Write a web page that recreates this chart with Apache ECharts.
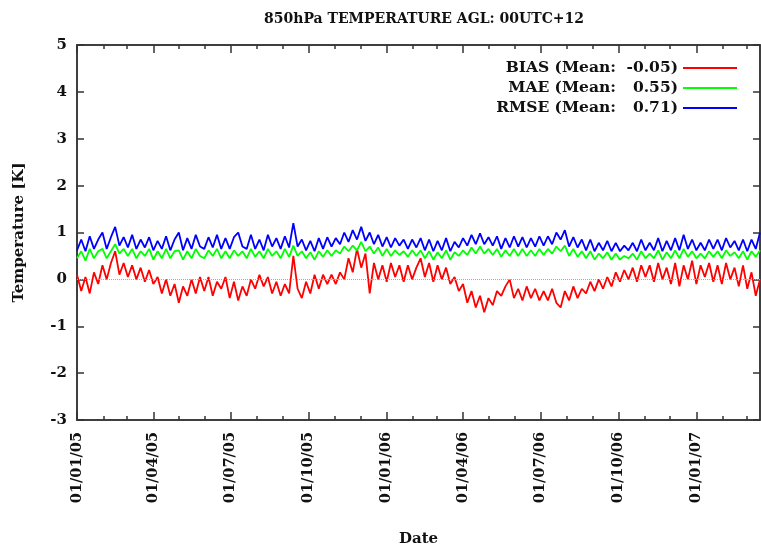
<!DOCTYPE html>
<html>
<head>
<meta charset="utf-8">
<script src="https://cdn.jsdelivr.net/npm/echarts@6/dist/echarts.min.js"></script>
<style>
html, body { margin: 0; padding: 0; background: #fff; }
#main { width: 761px; height: 549px; }
</style>
</head>
<body>
<div id="main"></div>
<script>
// values, one every 5 days starting 01/01/05
const stepDays = 5;
const lastDay = 805;
const biasValues = [
  0.1,-0.25,0.05,-0.3,0.15,-0.1,0.3,0.0,0.35,0.6,
  0.1,0.35,0.05,0.3,0.0,0.25,-0.05,0.2,-0.1,0.05,
  -0.3,0.0,-0.35,-0.1,-0.5,-0.15,-0.35,0.0,-0.3,0.05,
  -0.25,0.05,-0.35,-0.05,-0.2,0.05,-0.4,-0.05,-0.45,-0.15,
  -0.35,0.0,-0.2,0.1,-0.15,0.05,-0.3,-0.05,-0.35,-0.1,
  -0.3,0.5,-0.2,-0.4,-0.05,-0.3,0.1,-0.2,0.1,-0.1,
  0.1,-0.1,0.15,0.0,0.45,0.15,0.65,0.25,0.55,-0.3,
  0.35,0.0,0.3,-0.05,0.35,0.05,0.3,-0.05,0.3,0.0,
  0.25,0.45,0.05,0.35,-0.05,0.3,0.0,0.25,-0.1,0.05,
  -0.25,-0.1,-0.5,-0.25,-0.6,-0.35,-0.7,-0.4,-0.55,-0.25,
  -0.35,-0.15,0.0,-0.4,-0.2,-0.45,-0.15,-0.4,-0.2,-0.45,
  -0.25,-0.45,-0.2,-0.5,-0.6,-0.25,-0.45,-0.15,-0.4,-0.2,
  -0.3,-0.05,-0.25,0.0,-0.2,0.05,-0.15,0.15,-0.05,0.2,
  0.0,0.25,-0.05,0.3,0.05,0.3,-0.05,0.35,0.0,0.25,
  -0.1,0.35,-0.15,0.3,0.0,0.4,-0.1,0.3,0.05,0.35,
  -0.05,0.3,-0.1,0.35,0.0,0.25,-0.15,0.3,-0.2,0.15,
  -0.35,0.0
];
const maeValues = [
  0.45,0.6,0.4,0.65,0.45,0.6,0.65,0.45,0.6,0.75,
  0.55,0.65,0.5,0.65,0.45,0.6,0.5,0.65,0.42,0.6,
  0.45,0.65,0.45,0.6,0.62,0.42,0.6,0.45,0.65,0.5,
  0.45,0.62,0.5,0.65,0.45,0.6,0.45,0.62,0.5,0.6,
  0.45,0.65,0.48,0.6,0.45,0.65,0.5,0.6,0.45,0.65,
  0.48,0.72,0.5,0.6,0.45,0.58,0.42,0.6,0.48,0.62,
  0.5,0.62,0.55,0.7,0.6,0.72,0.62,0.8,0.6,0.7,
  0.55,0.68,0.5,0.65,0.5,0.62,0.52,0.6,0.48,0.62,
  0.5,0.62,0.45,0.6,0.42,0.58,0.45,0.62,0.42,0.58,
  0.5,0.62,0.52,0.68,0.55,0.7,0.55,0.65,0.52,0.65,
  0.48,0.62,0.5,0.65,0.5,0.65,0.5,0.62,0.5,0.65,
  0.52,0.65,0.55,0.7,0.6,0.72,0.5,0.65,0.48,0.6,
  0.45,0.6,0.42,0.55,0.45,0.58,0.42,0.55,0.42,0.5,
  0.45,0.55,0.42,0.6,0.45,0.55,0.45,0.62,0.42,0.58,
  0.45,0.62,0.45,0.65,0.48,0.6,0.45,0.55,0.45,0.6,
  0.48,0.6,0.45,0.62,0.5,0.58,0.45,0.6,0.42,0.6,
  0.48,0.62
];
const rmseValues = [
  0.62,0.85,0.6,0.92,0.65,0.85,1.0,0.65,0.9,1.12,
  0.72,0.9,0.68,0.95,0.65,0.85,0.68,0.9,0.62,0.82,
  0.65,0.92,0.62,0.85,1.0,0.62,0.88,0.65,0.95,0.7,
  0.65,0.9,0.68,0.95,0.65,0.88,0.65,0.9,1.0,0.7,
  0.65,0.95,0.65,0.85,0.62,0.95,0.7,0.88,0.65,0.92,
  0.68,1.2,0.7,0.85,0.62,0.82,0.6,0.88,0.65,0.9,
  0.7,0.88,0.75,1.0,0.8,1.05,0.85,1.12,0.82,1.0,
  0.75,0.95,0.7,0.9,0.68,0.88,0.72,0.85,0.65,0.85,
  0.68,0.88,0.62,0.85,0.6,0.82,0.62,0.88,0.6,0.8,
  0.68,0.88,0.72,0.95,0.75,0.98,0.75,0.9,0.72,0.92,
  0.65,0.88,0.68,0.92,0.7,0.9,0.68,0.88,0.7,0.92,
  0.72,0.92,0.75,1.0,0.85,1.05,0.7,0.9,0.68,0.85,
  0.62,0.85,0.6,0.78,0.62,0.82,0.6,0.78,0.6,0.72,
  0.62,0.78,0.6,0.85,0.62,0.78,0.62,0.88,0.6,0.82,
  0.62,0.88,0.62,0.95,0.65,0.85,0.62,0.78,0.62,0.85,
  0.65,0.85,0.62,0.88,0.68,0.82,0.62,0.85,0.6,0.85,
  0.65,1.0
];
const seriesNames = ['BIAS', 'MAE', 'RMSE'];
const meanValues = ['-0.05', '0.55', '0.71'];
const seriesColors = ['#ff0000', '#00ff00', '#0000ff'];
const quarterMonths = ['01', '04', '07', '10'];

// daily categories dd/mm/yy
const dates = [];
for (let i = 0; i <= lastDay; i++) {
  const d = new Date(Date.UTC(2005, 0, 1 + i));
  const dd = String(d.getUTCDate()).padStart(2, '0');
  const mm = String(d.getUTCMonth() + 1).padStart(2, '0');
  const yy = String(d.getUTCFullYear()).slice(2);
  dates.push(dd + '/' + mm + '/' + yy);
}
const isMonthStart = function(idx, val) { return val.slice(0, 2) == '01'; };
const isQuarterStart = function(idx, val) {
  return val.slice(0, 2) == '01' && quarterMonths.indexOf(val.slice(3, 5)) >= 0;
};

function toPairs(vals) {
  return vals.map(function(v, i) { return [i * stepDays, v]; });
}

const font = 'DejaVu Serif';
const axisColor = '#333';

function xAxisDef(position, major, withLabel) {
  return {
    type: 'category',
    position: position,
    data: dates,
    boundaryGap: false,
    axisLine: { show: major, onZero: false, lineStyle: { color: axisColor, width: 1.5 } },
    axisTick: {
      show: true,
      inside: true,
      length: major ? 8 : 4,
      interval: major ? isQuarterStart : isMonthStart,
      lineStyle: { color: axisColor, width: 1.5 }
    },
    axisLabel: withLabel ? {
      show: true,
      interval: isQuarterStart,
      rotate: 90,
      margin: 12,
      color: '#111',
      fontFamily: font,
      fontWeight: 'bold',
      fontSize: 14.5
    } : { show: false },
    splitLine: { show: false },
    name: withLabel ? 'Date' : '',
    nameLocation: 'middle',
    nameGap: 112,
    nameTextStyle: { color: '#111', fontFamily: font, fontWeight: 'bold', fontSize: 15 }
  };
}

function yAxisDef(position, withLabel) {
  return {
    type: 'value',
    position: position,
    min: -3,
    max: 5,
    interval: 1,
    axisLine: { show: true, lineStyle: { color: axisColor, width: 1.5 } },
    axisTick: { show: true, inside: true, length: 7, lineStyle: { color: axisColor, width: 1.5 } },
    axisLabel: withLabel ? {
      show: true,
      margin: 10,
      color: '#111',
      fontFamily: font,
      fontWeight: 'bold',
      fontSize: 15
    } : { show: false },
    splitLine: { show: false },
    name: withLabel ? 'Temperature [K]' : '',
    nameLocation: 'middle',
    nameGap: 50,
    nameTextStyle: { color: '#111', fontFamily: font, fontWeight: 'bold', fontSize: 15 }
  };
}

const chart = echarts.init(document.getElementById('main'));
chart.setOption({
  animation: false,
  backgroundColor: '#fff',
  title: {
    text: '850hPa TEMPERATURE AGL: 00UTC+12',
    left: 419,
    top: 7,
    textAlign: 'center',
    textStyle: { color: '#111', fontFamily: font, fontWeight: 'bold', fontSize: 14 }
  },
  legend: {
    orient: 'vertical',
    align: 'right',
    right: 19,
    top: 54,
    itemGap: 2,
    itemWidth: 54,
    itemHeight: 2,
    icon: 'rect',
    data: seriesNames,
    formatter: function(name) {
      const k = seriesNames.indexOf(name);
      return name + ' {m|(Mean:}{n|' + meanValues[k] + ')}';
    },
    textStyle: {
      color: '#111',
      fontFamily: font,
      fontWeight: 'bold',
      fontSize: 15.5,
      lineHeight: 18,
      rich: {
        m: { color: '#111', fontFamily: font, fontWeight: 'bold', fontSize: 15.5, lineHeight: 18 },
        n: { color: '#111', fontFamily: font, fontWeight: 'bold', fontSize: 15.5, lineHeight: 18, width: 62, align: 'right' }
      }
    }
  },
  grid: {
    left: 77,
    right: 1,
    top: 45,
    bottom: 129,
    show: true,
    borderColor: axisColor,
    borderWidth: 1.5,
    containLabel: false,
    outerBoundsMode: 'none'
  },
  xAxis: [
    xAxisDef('bottom', true, true),
    xAxisDef('bottom', false, false),
    xAxisDef('top', true, false),
    xAxisDef('top', false, false)
  ],
  yAxis: [
    yAxisDef('left', true),
    yAxisDef('right', false)
  ],
  series: [{
    name: 'BIAS',
    type: 'line',
    xAxisIndex: 0,
    yAxisIndex: 0,
    showSymbol: false,
    data: toPairs(biasValues),
    lineStyle: { color: seriesColors[0], width: 1.8 },
    itemStyle: { color: seriesColors[0] },
    markLine: {
      silent: true,
      symbol: 'none',
      label: { show: false },
      lineStyle: { color: '#aaa', type: 'dotted', width: 1 },
      data: [{ yAxis: 0 }]
    }
  }, {
    name: 'MAE',
    type: 'line',
    xAxisIndex: 0,
    yAxisIndex: 0,
    showSymbol: false,
    data: toPairs(maeValues),
    lineStyle: { color: seriesColors[1], width: 1.8 },
    itemStyle: { color: seriesColors[1] }
  }, {
    name: 'RMSE',
    type: 'line',
    xAxisIndex: 0,
    yAxisIndex: 0,
    showSymbol: false,
    data: toPairs(rmseValues),
    lineStyle: { color: seriesColors[2], width: 1.8 },
    itemStyle: { color: seriesColors[2] }
  }]
});
</script>
</body>
</html>
